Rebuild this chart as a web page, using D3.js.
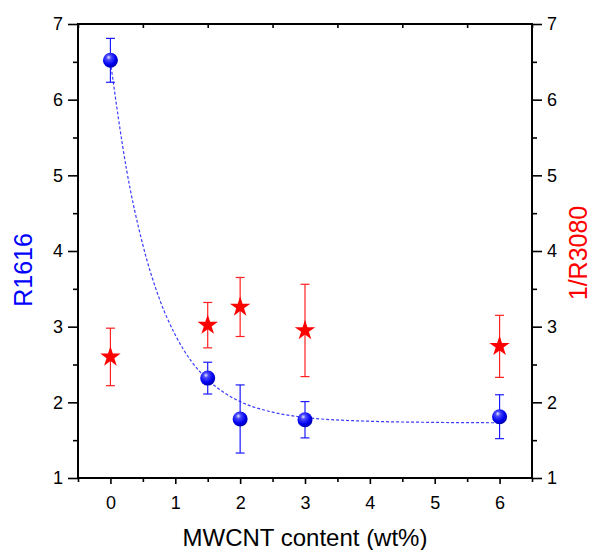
<!DOCTYPE html>
<html><head><meta charset="utf-8">
<script src="https://cdn.jsdelivr.net/npm/d3@7"></script>
<style>body{margin:0;background:#fff}svg{display:block}text{font-family:"Liberation Sans",Arial,sans-serif}</style>
</head><body><svg id="c" width="592" height="550"></svg>
<script>
const xValues = [0, 1.5, 2, 3, 6];
const r1616 = [6.52, 2.32, 1.78, 1.77, 1.81];
const r1616Err = [0.29, 0.21, 0.45, 0.24, 0.29];
const invR3080 = [2.60, 3.02, 3.26, 2.95, 2.74];
const invR3080Err = [0.38, 0.30, 0.39, 0.61, 0.41];
const fitX = [0, 0.25, 0.5, 0.75, 1, 1.25, 1.5, 1.75, 2, 2.5, 3, 4, 5, 6];
const fitY = [6.50, 5.07, 4.08, 3.38, 2.89, 2.54, 2.30, 2.13, 2.01, 1.87, 1.80, 1.75, 1.735, 1.73];
const xTicks = [0, 1, 2, 3, 4, 5, 6];
const yTicks = [1, 2, 3, 4, 5, 6, 7];

const svg = d3.select("#c");
const L = 78, R = 532, T = 24, B = 478;
const x = d3.scaleLinear().domain([-0.5, 6.5]).range([L, R]);
const yL = d3.scaleLinear().domain([1, 7]).range([B, T]);
const yR = d3.scaleLinear().domain([1, 7]).range([B, T]);

const defs = svg.append("defs");
const g = defs.append("radialGradient").attr("id", "ball").attr("cx", "40%").attr("cy", "35%").attr("r", "65%").attr("fx", "38%").attr("fy", "30%");
g.append("stop").attr("offset", "0%").attr("stop-color", "#e8e8ff");
g.append("stop").attr("offset", "25%").attr("stop-color", "#4a4aff");
g.append("stop").attr("offset", "70%").attr("stop-color", "#0000f0");
g.append("stop").attr("offset", "100%").attr("stop-color", "#0000b0");

// axes
const minorX = d3.range(-0.5, 6.51, 0.5).filter(v => !Number.isInteger(v));
const minorY = d3.range(1.5, 7, 1);

svg.append("g").attr("transform", `translate(0,${B})`)
  .call(d3.axisBottom(x).tickValues(xTicks).tickSize(6).tickPadding(12).tickFormat(d3.format("d")));
svg.append("g").attr("transform", `translate(0,${B})`)
  .call(d3.axisBottom(x).tickValues(minorX).tickSize(4).tickFormat(""));
svg.append("g").attr("transform", `translate(0,${T})`)
  .call(d3.axisBottom(x).tickValues(minorX).tickSize(4).tickFormat(""));
svg.append("g").attr("transform", `translate(${L},0)`)
  .call(d3.axisLeft(yL).tickValues(yTicks).tickSize(10).tickPadding(5).tickFormat(d3.format("d")));
svg.append("g").attr("transform", `translate(${L},0)`)
  .call(d3.axisLeft(yL).tickValues(minorY).tickSize(5).tickFormat(""));
svg.append("g").attr("transform", `translate(${R},0)`)
  .call(d3.axisRight(yR).tickValues(yTicks).tickSize(10).tickPadding(5).tickFormat(d3.format("d")));
svg.append("g").attr("transform", `translate(${R},0)`)
  .call(d3.axisRight(yR).tickValues(minorY).tickSize(5).tickFormat(""));
svg.selectAll(".domain").remove();
svg.selectAll(".tick line").attr("stroke", "#000").attr("stroke-width", 1.6);
svg.selectAll(".tick text").attr("font-size", 18).attr("fill", "#000").attr("font-family", "Liberation Sans, Arial, sans-serif");

svg.append("rect").attr("x", L).attr("y", T).attr("width", R - L).attr("height", B - T)
  .attr("fill", "none").attr("stroke", "#000").attr("stroke-width", 2);

// fit curve
svg.append("path").datum(fitX.map((d, i) => [d, fitY[i]]))
  .attr("d", d3.line().x(d => x(d[0])).y(d => yL(d[1])).curve(d3.curveMonotoneX))
  .attr("fill", "none").attr("stroke", "#3c3cff").attr("stroke-width", 1.2).attr("stroke-dasharray", "3,2");

// error bars
function errBars(vals, errs, sc, color) {
  const eg = svg.append("g").attr("stroke", color).attr("stroke-width", 1.2).attr("fill", "none");
  xValues.forEach((xv, i) => {
    const cx = x(xv), t = sc(vals[i] + errs[i]), b = sc(vals[i] - errs[i]);
    eg.append("line").attr("x1", cx).attr("x2", cx).attr("y1", t).attr("y2", b);
    eg.append("line").attr("x1", cx - 4.5).attr("x2", cx + 4.5).attr("y1", t).attr("y2", t);
    eg.append("line").attr("x1", cx - 4.5).attr("x2", cx + 4.5).attr("y1", b).attr("y2", b);
  });
}
errBars(invR3080, invR3080Err, yR, "#ff2020");
errBars(r1616, r1616Err, yL, "#1a1aff");

// stars
svg.append("g").selectAll("path").data(invR3080).join("path")
  .attr("transform", (d, i) => `translate(${x(xValues[i])},${yR(d)})`)
  .attr("d", d3.symbol().type(d3.symbolStar).size(130))
  .attr("fill", "#ff0000");

// balls
svg.append("g").selectAll("circle").data(r1616).join("circle")
  .attr("cx", (d, i) => x(xValues[i])).attr("cy", d => yL(d)).attr("r", 7.5)
  .attr("fill", "url(#ball)");

// titles
svg.append("text").attr("x", 305).attr("y", 546).attr("text-anchor", "middle")
  .attr("font-size", 24).attr("fill", "#000").text("MWCNT content (wt%)");
svg.append("text").attr("transform", `translate(32,270) rotate(-90)`).attr("text-anchor", "middle")
  .attr("font-size", 25).attr("fill", "#0000ff").text("R1616");
svg.append("text").attr("transform", `translate(587,253) rotate(-90)`).attr("text-anchor", "middle")
  .attr("font-size", 25).attr("fill", "#ff0000").text("1/R3080");
</script></body></html>
